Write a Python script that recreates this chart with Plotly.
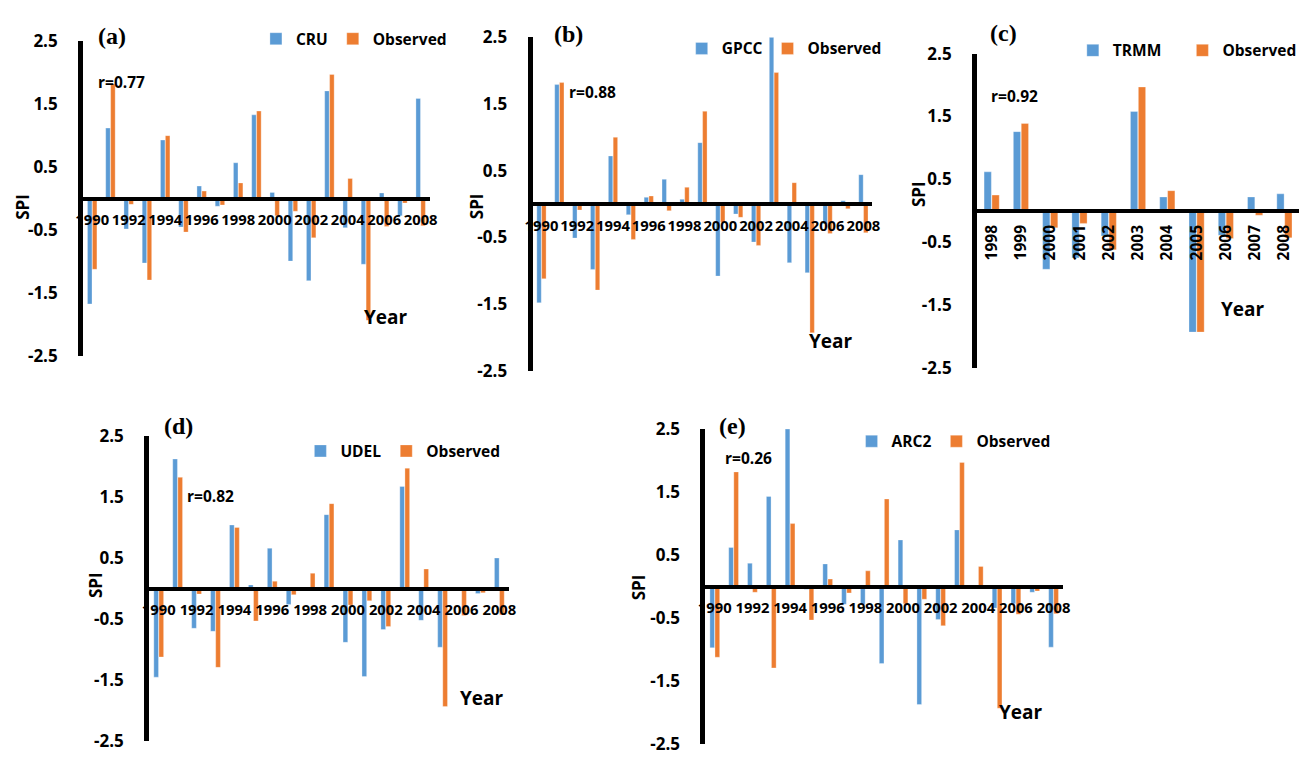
import plotly.graph_objects as go

W, H = 1311, 762

years_full = list(range(1990, 2009))
years_trmm = list(range(1998, 2009))

observed = [-1.12, 1.82, -0.09, -1.29, 1.00, -0.53, 0.12, -0.10, 0.25, 1.39,
            -0.27, -0.20, -0.62, 1.97, 0.32, -1.93, -0.44, -0.07, -0.43]
cru = [-1.67, 1.12, -0.48, -1.02, 0.93, -0.45, 0.20, -0.12, 0.57, 1.33,
       0.10, -0.99, -1.30, 1.71, -0.46, -1.04, 0.09, -0.27, 1.59]
gpcc = [-1.48, 1.79, -0.51, -0.98, 0.72, -0.16, 0.10, 0.37, 0.07, 0.92,
        -1.08, -0.15, -0.57, 2.50, -0.88, -1.03, -0.30, 0.05, 0.44]
trmm = [0.62, 1.26, -0.93, -0.75, -0.40, 1.58, 0.22, -1.93, -0.39, 0.22, 0.27]
udel = [-1.45, 2.12, -0.65, -0.70, 1.04, 0.06, 0.66, -0.26, 0.00, 1.21,
        -0.88, -1.44, -0.67, 1.67, -0.52, -0.96, -0.03, -0.08, 0.50]
arc2 = [-0.97, 0.62, 0.37, 1.43, 2.50, -0.04, 0.36, -0.28, -0.28, -1.22,
        0.74, -1.87, -0.52, 0.90, 0.00, -0.34, -0.27, -0.09, -0.96]

y_tickvals = [-2.5, -1.5, -0.5, 0.5, 1.5, 2.5]
y_ticktext = ["-2.5", "-1.5", "-0.5", "0.5", "1.5", "2.5"]
x_ticks_biennial = list(range(1990, 2009, 2))

panel_labels = ["(a)", "(b)", "(c)", "(d)", "(e)"]
r_labels = ["r=0.77", "r=0.88", "r=0.92", "r=0.82", "r=0.26"]
product_names = ["CRU", "GPCC", "TRMM", "UDEL", "ARC2"]

BLUE = "#5B9BD5"
ORANGE = "#ED7D31"
FONT = "Open Sans"

# panel geometry in pixels: (x_left, x_right, y_top, y_bottom)
geo = [
    (76, 427, 30, 355),
    (531, 875, 26, 370),
    (981, 1307, 43, 367),
    (143, 507, 437, 752),
    (706, 1068, 430, 755),
]
label_pos = [(105, 25), (567, 23), (1008, 22), (173, 427), (733, 427)]
r_pos = [(115, 72), (592, 82), (1019, 87), (205, 499), (750, 460)]
year_pos = [(383, 315), (833, 339), (1250, 306), (480, 707), (1026, 722)]
spi_pos = [(15, 201), (475, 200), (922, 188), (88, 591), (638, 593)]
# (left x, centre y) of each legend box
legend_pos = [(251, 28), (682, 38), (1078, 40), (296, 453), (854, 443)]
legend_pad = ["", "", "&nbsp;&nbsp;&nbsp;&nbsp;", "", ""]

series = [
    (years_full, cru, observed),
    (years_full, gpcc, observed),
    (years_trmm, trmm, observed[8:]),
    (years_full, udel, observed),
    (years_full, arc2, observed),
]

def b(s):
    return f"<b>{s}</b>"

fig = go.Figure()
layout = dict(
    width=W, height=H, autosize=False,
    margin=dict(l=0, r=0, t=0, b=0),
    paper_bgcolor="white", plot_bgcolor="white",
    barmode="group", bargap=0.46, bargroupgap=0.08,
    font=dict(family=FONT, color="black"),
    showlegend=True,
)
annotations = []

def px(x):
    return x / W

def py(y):
    return 1 - y / H

for i, (yrs, prod, obs) in enumerate(series):
    n = i + 1
    xa = "x" if n == 1 else f"x{n}"
    ya = "y" if n == 1 else f"y{n}"
    lg = "legend" if n == 1 else f"legend{n}"
    fig.add_trace(go.Bar(x=yrs, y=prod, name=b(product_names[i]) + legend_pad[i], xaxis=xa, yaxis=ya,
                         marker=dict(color=BLUE, line=dict(color="rgba(255,255,255,0.6)", width=0.5)),
                         legend=lg))
    fig.add_trace(go.Bar(x=yrs, y=obs, name=b("Observed"), xaxis=xa, yaxis=ya,
                         marker=dict(color=ORANGE, line=dict(color="rgba(255,255,255,0.6)", width=0.5)),
                         legend=lg))
    xl, xr, yt, yb = geo[i]
    ydom = [py(yb), py(yt)]
    zero = (ydom[0] + ydom[1]) / 2
    rotated = (i == 2)
    xkey = "xaxis" if n == 1 else f"xaxis{n}"
    ykey = "yaxis" if n == 1 else f"yaxis{n}"
    tv = yrs if rotated else x_ticks_biennial
    layout[xkey] = dict(
        domain=[px(xl), px(xr)], anchor="free", position=zero,
        range=[yrs[0] - 0.5, yrs[-1] + 0.5],
        tickmode="array", tickvals=tv, ticktext=[b(v) for v in tv],
        tickangle=(-90 if rotated else 0),
        showline=True, linecolor="black", linewidth=4,
        showgrid=False, zeroline=False, ticks="",
        ticklabelstandoff=(6 if rotated else 7),
        tickfont=dict(family=FONT, size=(15.5 if rotated else 14.8), color="black", weight="bold"),
        fixedrange=True,
    )
    layout[ykey] = dict(
        domain=ydom, anchor=xa, range=[-2.5, 2.5],
        tickmode="array", tickvals=y_tickvals, ticktext=[b(t) for t in y_ticktext],
        showline=True, linecolor="black", linewidth=5,
        showgrid=False, zeroline=False, ticks="",
        ticklabelstandoff=17,
        tickfont=dict(family=FONT, size=17, color="black", weight="bold"),
        fixedrange=True,
    )
    lx, ly = legend_pos[i]
    layout[lg] = dict(
        orientation="h", x=px(lx), y=py(ly), xanchor="left", yanchor="middle",
        bgcolor="rgba(0,0,0,0)", itemwidth=30, borderwidth=0,
        font=dict(family=FONT, size=15.5, color="black", weight="bold"),
    )
    ax, ay = label_pos[i]
    annotations.append(dict(text=b(panel_labels[i]), x=px(ax), y=py(ay), xref="paper", yref="paper",
                            showarrow=False, xanchor="center", yanchor="middle",
                            font=dict(family="Liberation Serif", size=24, color="black", weight="bold")))
    rx, ry = r_pos[i]
    annotations.append(dict(text=b(r_labels[i]), x=px(rx), y=py(ry), xref="paper", yref="paper",
                            showarrow=False, xanchor="center", yanchor="middle",
                            font=dict(family=FONT, size=15.5, color="black", weight="bold")))
    yx, yy = year_pos[i]
    annotations.append(dict(text=b("Year"), x=px(yx), y=py(yy), xref="paper", yref="paper",
                            showarrow=False, xanchor="center", yanchor="middle",
                            font=dict(family=FONT, size=19, color="black", weight="bold")))
    sx, sy = spi_pos[i]
    annotations.append(dict(text=b("SPI"), x=px(sx), y=py(sy), xref="paper", yref="paper",
                            showarrow=False, xanchor="center", yanchor="middle", textangle=-90,
                            font=dict(family=FONT, size=17, color="black", weight="bold")))

layout["annotations"] = annotations
fig.update_layout(**layout)
fig.write_html("out.html")
